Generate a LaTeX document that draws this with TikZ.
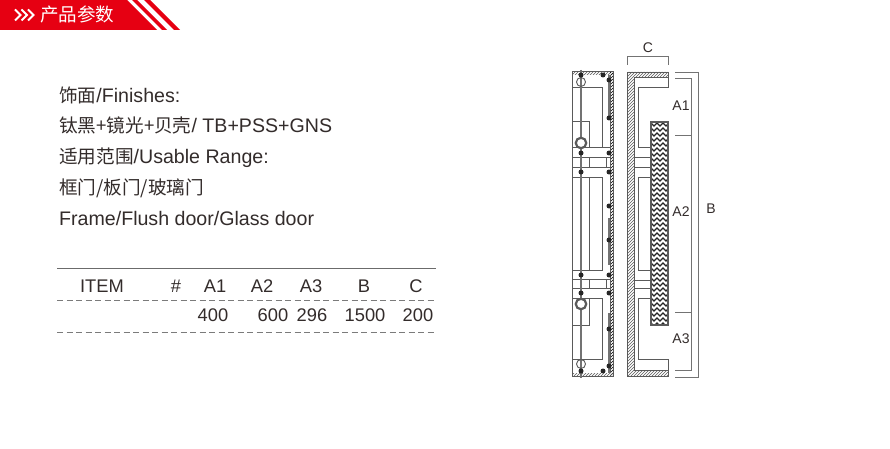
\documentclass[tikz,border=0pt]{standalone}
\usepackage{fontspec}
\setmainfont{Liberation Sans}
\newfontfamily\cjk{Noto Sans CJK SC}[Scale=0.95]
\usetikzlibrary{patterns}
\definecolor{bannerred}{HTML}{E60012}
\definecolor{inktext}{HTML}{332C2B}
\definecolor{inkline}{HTML}{5A5A5A}
\tikzset{
    plain/.style={draw=inkline, line width=1pt},
    guide/.style={draw=inkline!85, line width=0.9pt},
    body/.style={anchor=base west, text=inktext, font=\fontsize{19.6}{22}\selectfont, inner sep=0pt},
    cell/.style={anchor=base, text=inktext, font=\fontsize{18.3}{20}\selectfont, inner sep=0pt},
    dim/.style={text=inktext, font=\fontsize{14}{16}\selectfont, inner sep=0pt},
    hatchband/.style={draw=inkline, line width=0.9pt, pattern=north east lines, pattern color=inkline},
    pin/.style={circle, fill=black!85, minimum size=5pt, inner sep=0pt}
}
\begin{document}
\begin{tikzpicture}[x=1pt, y=-1pt]
    \useasboundingbox (0,0) rectangle (890,449);
    \fill[white] (0,0) rectangle (890,449);

    % Banner
    \fill[bannerred] (0,0) -- (127,0) -- (157,30) -- (0,30) -- cycle;
    \fill[bannerred] (132,0) -- (137,0) -- (167,30) -- (162,30) -- cycle;
    \fill[bannerred] (144,0) -- (150,0) -- (180,30) -- (174,30) -- cycle;
    \foreach \xa in {15,21.5,28}
        \draw[white, line width=2.1pt] (\xa,9.5) -- (\xa+5.5,15) -- (\xa,20.5);
    \node[anchor=base west, text=white, inner sep=0pt, font=\cjk\fontsize{19.5}{22}\selectfont] (title) at (40,22) {产品参数};

    % Finishes and usable range
    \node[body] (finishes) at (59,102.5) {{\cjk 饰面}/Finishes:};
    \node[body] (colours) at (59,133) {{\cjk 钛黑+镜光+贝壳}/ TB+PSS+GNS};
    \node[body] (range) at (59,163.5) {{\cjk 适用范围}/Usable Range:};
    \node[body] (doors) at (59,194.5) {{\cjk 框门/板门/玻璃门}};
    \node[body] (doorsen) at (59,225.5) {Frame/Flush door/Glass door};

    % Table
    \draw[draw=inkline!90, line width=0.9pt] (57,268) -- (436,268);
    \draw[draw=inkline!80, line width=1pt, dash pattern=on 6pt off 3.5pt] (57,300) -- (436,300);
    \draw[draw=inkline!80, line width=1pt, dash pattern=on 6pt off 3.5pt] (57,332) -- (436,332);
    \foreach \xa/\txt in {102/ITEM,176/\#,215/A1,262/A2,311/A3,364/B,416/C}
        \node[cell] at (\xa,292.5) {\txt};
    \foreach \xa/\txt in {213/400,273/600,312/296,365/1500,418/200}
        \node[cell] at (\xa,321.5) {\txt};

    % Back view
    \fill[pattern=north east lines, pattern color=inkline] (572,72) rectangle (613,75);
    \fill[pattern=north east lines, pattern color=black] (610,72) rectangle (613,376);
    \fill[pattern=north east lines, pattern color=inkline] (572,373) rectangle (613,376);
    \draw[plain] (572,72) rectangle (613,376);
    \draw[plain] (610,75) -- (610,373);
    \draw[plain] (572,88) -- (602,88) -- (602,148) -- (572,148);
    \draw[plain] (572,122) -- (589,122) -- (589,148);
    \draw[plain] (572,158) -- (610,158);
    \draw[plain] (572,167) -- (610,167);
    \draw[plain] (589,158) -- (589,167);
    \draw[plain] (606,158) -- (606,167);
    \draw[plain] (572,148) -- (610,148);
    \draw[plain] (572,177) -- (602,177) -- (602,270) -- (572,270);
    \draw[plain] (589,177) -- (589,270);
    \draw[plain] (572,279) -- (610,279);
    \draw[plain] (572,288) -- (610,288);
    \draw[plain] (589,279) -- (589,288);
    \draw[plain] (606,279) -- (606,288);
    \draw[plain] (572,298) -- (602,298) -- (602,359) -- (572,359);
    \draw[plain] (572,325) -- (589,325) -- (589,298);
    \draw[guide, line width=1.4pt] (581,70) -- (581,378);
    \draw[guide, line width=1.4pt] (609,75) -- (609,118);
    \draw[guide, line width=1.4pt] (609,218) -- (609,265);
    \draw[guide, line width=1.4pt] (609,313) -- (609,373);
    \node[circle, draw=inkline, line width=0.9pt, minimum size=9pt, inner sep=0pt] (holetop) at (581,82) {};
    \node[circle, draw=inkline, fill=white, line width=2.2pt, minimum size=10.5pt, inner sep=0pt] (ringtop) at (581,143) {};
    \node[circle, draw=inkline, fill=white, line width=2.2pt, minimum size=10.5pt, inner sep=0pt] (ringbot) at (581,304) {};
    \node[circle, draw=inkline, line width=0.9pt, minimum size=9pt, inner sep=0pt] (holebot) at (581,364) {};
    \foreach \xa/\ya in {581/75,603/75,609/80,609/118,581/153,609/153,581/172,609/172,609/206,609/240,581/275,609/275,581/293,609/293,609/329,609/366,603/371,581/371}
        \node[pin] at (\xa,\ya) {};

    % Side view
    \draw[hatchband] (627,72) -- (668,72) -- (668,77) -- (634,77) -- (634,370) -- (668,370) -- (668,376) -- (627,376) -- cycle;
    \draw[plain] (668,77) -- (668,88) -- (638,88) -- (638,148) -- (651,148);
    \draw[plain] (634,158) -- (651,158);
    \draw[plain] (634,167) -- (651,167);
    \draw[plain] (651,177) -- (638,177) -- (638,270) -- (651,270);
    \draw[plain] (634,280) -- (651,280);
    \draw[plain] (634,288) -- (651,288);
    \draw[plain] (651,298) -- (638,298) -- (638,359) -- (668,359) -- (668,370);
    % handle grip
    \begin{scope}
        \clip (651,122) rectangle (668,325);
        \foreach \ya in {118,123,...,330} {
            \draw[black!85, line width=1.25pt] (651,\ya) -- (654,\ya+3) -- (657,\ya) -- (660,\ya+3) -- (663,\ya) -- (666,\ya+3) -- (669,\ya);
        }
    \end{scope}
    \draw[draw=inkline, line width=1.6pt] (651,122) rectangle (668,325);

    % Dimensions
    \draw[guide] (627,65) -- (627,56) -- (668,56) -- (668,65);
    \node[dim] (dimc) at (648,47.5) {C};
    \draw[guide] (675,72) -- (698,72) -- (698,377) -- (675,377);
    \draw[guide] (675,78) -- (691,78) -- (691,370) -- (675,370);
    \draw[guide] (675,135) -- (691,135);
    \draw[guide] (675,312) -- (691,312);
    \node[dim] (dima1) at (681,105.5) {A1};
    \node[dim] (dima2) at (681,211.5) {A2};
    \node[dim] (dima3) at (681,338.5) {A3};
    \node[dim] (dimb) at (711,208.5) {B};
\end{tikzpicture}
\end{document}
